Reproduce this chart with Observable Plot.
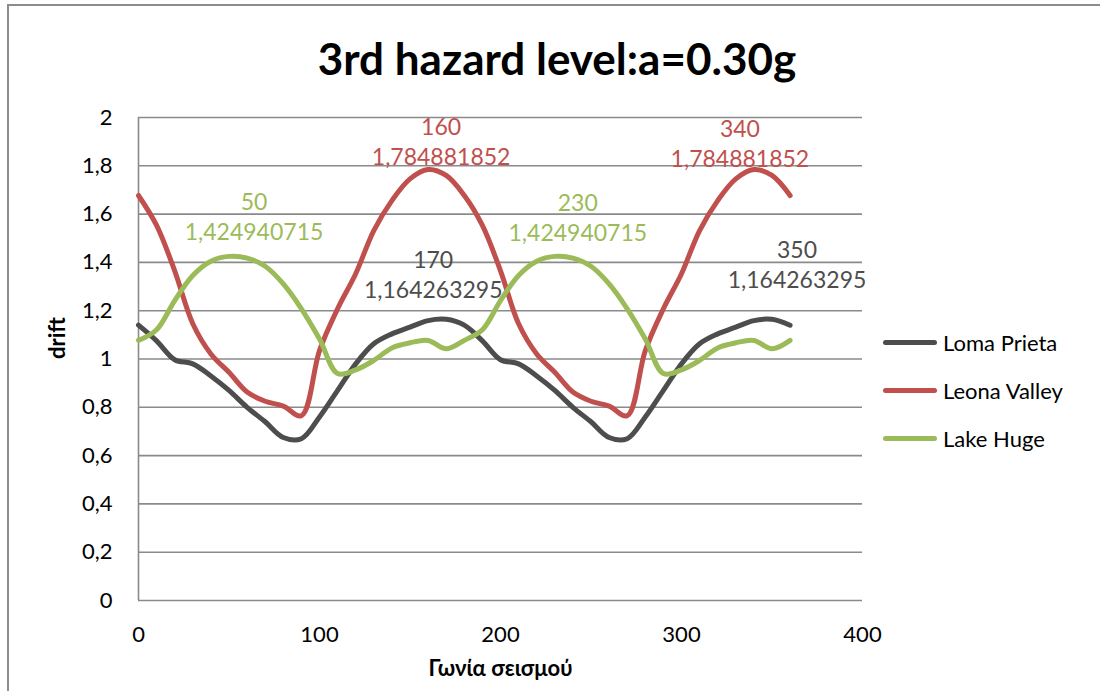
<!DOCTYPE html>
<html>
<head>
<meta charset="utf-8">
<script src="https://cdn.jsdelivr.net/npm/d3@7"></script>
<script src="https://cdn.jsdelivr.net/npm/@observablehq/plot@0.6"></script>
<style>
  html, body { margin: 0; padding: 0; background: #fff; overflow: hidden; }
  #wrap { position: relative; width: 1100px; height: 691px; overflow: hidden; font-family: Lato, "Open Sans", sans-serif; }
  #frame { position: absolute; left: 7px; top: 4px; width: 1093px; height: 687px; border-left: 2px solid #8c8c8c; border-top: 2px solid #8c8c8c; }
  #title { position: absolute; left: 0; width: 1114px; top: 30px; text-align: center; font-weight: bold; font-size: 44px; line-height: 56px; color: #000; }
  #chart { position: absolute; left: 0; top: 0; }
  .leg { position: absolute; left: 883px; height: 30px; display: flex; align-items: center; font-size: 22px; color: #000; }
  .sw { width: 54px; height: 5px; border-radius: 3px; margin-right: 6px; }
</style>
</head>
<body>
<div id="wrap">
  <div id="frame"></div>
  <div id="chart"></div>
  <div id="title"></div>
  <div id="legend"></div>
</div>
<script>
const titleText = "3rd hazard level:a=0.30g";
const xLabel = "Γωνία σεισμού";
const yLabel = "drift";
const seriesNames = ["Loma Prieta", "Leona Valley", "Lake Huge"];
const seriesColors = ["#4d4d4d", "#c0504d", "#9bbb59"];
const labelColors = ["#4d4d4d", "#c0504d", "#9bbb59"];

const angles = [0, 10, 20, 30, 40, 50, 60, 70, 80, 90, 100, 110, 120, 130, 140, 150, 160, 170, 180,
  190, 200, 210, 220, 230, 240, 250, 260, 270, 280, 290, 300, 310, 320, 330, 340, 350, 360];

const lomaPrieta = [1.14, 1.075, 0.997, 0.98, 0.93, 0.87, 0.80, 0.74, 0.675, 0.67, 0.76, 0.87, 0.98, 1.063, 1.104, 1.132, 1.159, 1.164263295, 1.14,
  1.075, 0.997, 0.98, 0.93, 0.87, 0.80, 0.74, 0.675, 0.67, 0.76, 0.87, 0.98, 1.063, 1.104, 1.132, 1.159, 1.164263295, 1.14];

const leonaValley = [1.677, 1.553, 1.365, 1.146, 1.021, 0.945, 0.863, 0.825, 0.805, 0.765, 1.035, 1.208, 1.353, 1.532, 1.656, 1.746, 1.784881852, 1.76, 1.677,
  1.553, 1.365, 1.146, 1.021, 0.945, 0.863, 0.825, 0.805, 0.765, 1.035, 1.208, 1.353, 1.532, 1.656, 1.746, 1.784881852, 1.76, 1.677];

const lakeHuge = [1.077, 1.121, 1.242, 1.346, 1.405, 1.424940715, 1.418, 1.384, 1.311, 1.208, 1.083, 0.94, 0.955, 0.994, 1.046, 1.067, 1.077, 1.042, 1.077,
  1.121, 1.242, 1.346, 1.405, 1.424940715, 1.418, 1.384, 1.311, 1.208, 1.083, 0.94, 0.955, 0.994, 1.046, 1.067, 1.077, 1.042, 1.077];

const yTicks = [0, 0.2, 0.4, 0.6, 0.8, 1, 1.2, 1.4, 1.6, 1.8, 2];
const xTicks = [0, 100, 200, 300, 400];

// data labels: angle + series index
const labelAngles = [50, 160, 170, 230, 340, 350];
const labelSeries = [2, 1, 0, 2, 1, 0];

const seriesValues = [lomaPrieta, leonaValley, lakeHuge];
const rows = [];
seriesNames.forEach((name, s) => {
  angles.forEach((a, i) => rows.push({series: name, angle: a, drift: seriesValues[s][i]}));
});

const comma = v => String(v).replace(".", ",");

function dataLabel(k, dx, dy) {
  const a = labelAngles[k];
  const s = labelSeries[k];
  const v = seriesValues[s][angles.indexOf(a)];
  return Plot.text([{angle: a, drift: v}], {
    x: "angle", y: "drift",
    text: d => `${d.angle}\n${comma(d.drift)}`,
    fill: labelColors[s],
    lineAnchor: "bottom",
    lineHeight: 1.33,
    fontSize: 23,
    dx, dy
  });
}

const chart = Plot.plot({
  width: 1100,
  height: 691,
  marginLeft: 138,
  marginRight: 238,
  marginTop: 117,
  marginBottom: 91,
  style: {fontFamily: "Lato, 'Open Sans', sans-serif", fontSize: "22px", color: "#000", background: "transparent"},
  x: {domain: [0, 400], label: null},
  y: {domain: [0, 2], label: null},
  color: {domain: seriesNames, range: seriesColors},
  marks: [
    Plot.ruleY(yTicks, {stroke: "#8a8a8a", strokeWidth: 1.6}),
    Plot.ruleX([0], {stroke: "#8a8a8a", strokeWidth: 1.6}),
    Plot.axisY({ticks: yTicks, tickSize: 0, tickPadding: 26, tickFormat: comma, label: null, fontSize: 22}),
    Plot.axisX({ticks: xTicks, tickSize: 0, tickPadding: 26, tickFormat: d => String(d), label: null, fontSize: 22}),
    Plot.line(rows, {x: "angle", y: "drift", z: "series", stroke: "series", strokeWidth: 5, curve: "catmull-rom", strokeLinejoin: "round", strokeLinecap: "round"}),
    dataLabel(0, 25, -16),
    dataLabel(1, 13, -4),
    dataLabel(2, -13, -21),
    dataLabel(3, 23, -15),
    dataLabel(4, -14, -2),
    dataLabel(5, 25, -31),
    Plot.text([yLabel], {frameAnchor: "left", dx: -81, rotate: -90, fontWeight: "bold", fontSize: 22, fill: "#000"}),
    Plot.text([xLabel], {frameAnchor: "bottom", dy: 75, fontWeight: "bold", fontSize: 22, fill: "#000"})
  ]
});
document.getElementById("chart").appendChild(chart);
document.getElementById("title").textContent = titleText;

const legend = document.getElementById("legend");
const legendTops = [327, 375, 423];
seriesNames.forEach((name, i) => {
  const row = document.createElement("div");
  row.className = "leg";
  row.style.top = legendTops[i] + "px";
  const sw = document.createElement("div");
  sw.className = "sw";
  sw.style.background = seriesColors[i];
  const t = document.createElement("span");
  t.textContent = name;
  row.appendChild(sw);
  row.appendChild(t);
  legend.appendChild(row);
});
</script>
</body>
</html>
